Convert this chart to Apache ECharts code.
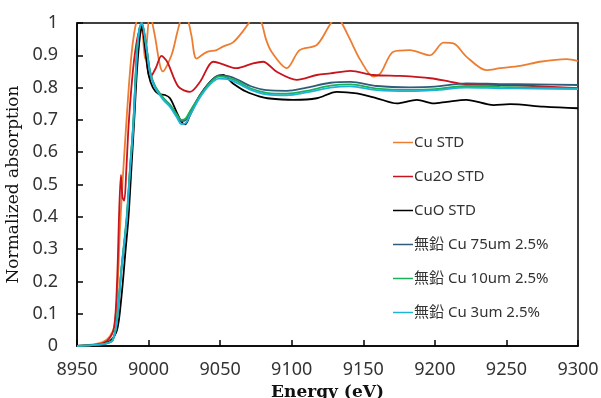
<!DOCTYPE html>
<html>
<head>
<meta charset="utf-8">
<script src="https://cdn.jsdelivr.net/npm/echarts@6/dist/echarts.min.js"></script>
<style>
html, body { margin: 0; padding: 0; background: #fff; }
#main { width: 601px; height: 398px; }
</style>
</head>
<body>
<div id="main"></div>
<script>
// series names
var names = ['Cu STD', 'Cu2O STD', 'CuO STD', '無鉛 Cu 75um 2.5%', '無鉛 Cu 10um 2.5%', '無鉛 Cu 3um 2.5%'];
var colors = ['#ED7D31', '#C8141C', '#000000', '#2E5C7A', '#1DB05A', '#1EB4D8'];

// Cu STD
var cuE = [8950, 8960, 8968, 8973, 8976, 8978, 8980, 8982, 8984, 8986, 8988, 8990, 8992, 8994.5, 8997.5, 9001, 9004, 9010, 9016, 9020, 9022.5, 9025, 9027.5, 9030, 9033.5, 9040.5, 9047.5, 9052, 9059, 9066, 9070, 9073, 9076, 9079, 9082, 9086, 9096.5, 9105.5, 9117.5, 9126, 9129, 9132, 9135, 9141, 9148, 9157, 9162, 9171, 9182.5, 9196.5, 9206, 9213, 9222, 9236, 9245.5, 9259.5, 9273.5, 9292, 9300];
var cuY = [0, 0.004, 0.012, 0.03, 0.06, 0.15, 0.36, 0.52, 0.66, 0.79, 0.9, 0.97, 1.01, 1.02, 0.89, 1.03, 0.97, 0.85, 0.9, 0.97, 1.01, 1.03, 1.01, 0.96, 0.89, 0.91, 0.916, 0.927, 0.94, 0.975, 1.0, 1.02, 1.02, 1.0, 0.95, 0.91, 0.86, 0.916, 0.932, 0.99, 1.01, 1.02, 1.0, 0.947, 0.885, 0.834, 0.844, 0.911, 0.916, 0.90, 0.939, 0.937, 0.896, 0.854, 0.86, 0.867, 0.88, 0.888, 0.882];

// Cu2O STD
var cu2oE = [8950, 8965, 8972, 8976, 8978, 8979.5, 8980.7, 8981.8, 8983, 8984.5, 8986, 8988, 8990, 8992.5, 8995, 8997.5, 9001, 9005, 9009, 9013, 9020.8, 9029, 9036, 9045, 9050, 9061.5, 9073, 9080, 9089.5, 9103.5, 9117.5, 9127, 9141, 9157, 9176, 9197, 9211, 9222, 9245.5, 9268.5, 9300];
var cu2oY = [0, 0.005, 0.02, 0.06, 0.2, 0.42, 0.53, 0.46, 0.45, 0.55, 0.68, 0.8, 0.89, 0.96, 0.99, 0.92, 0.83, 0.86, 0.898, 0.88, 0.803, 0.787, 0.818, 0.88, 0.875, 0.86, 0.875, 0.88, 0.849, 0.824, 0.839, 0.844, 0.852, 0.839, 0.836, 0.829, 0.818, 0.81, 0.808, 0.805, 0.798];

// CuO STD
var cuoE = [8950, 8965, 8973, 8978, 8981, 8984, 8986, 8988, 8990, 8992, 8994, 8995.5, 8997.5, 9000, 9003, 9007, 9011.5, 9015, 9019.5, 9023, 9025.5, 9029, 9036, 9043, 9047.5, 9052, 9059, 9068.5, 9078, 9083, 9101, 9117.5, 9131.5, 9145.5, 9159.5, 9173.5, 9187.5, 9199, 9208.5, 9222, 9241, 9252.5, 9276, 9300];
var cuoY = [0, 0.004, 0.015, 0.05, 0.15, 0.3, 0.4, 0.55, 0.7, 0.86, 0.96, 0.99, 0.93, 0.84, 0.8, 0.78, 0.777, 0.767, 0.725, 0.694, 0.686, 0.715, 0.777, 0.818, 0.834, 0.839, 0.813, 0.787, 0.772, 0.767, 0.762, 0.767, 0.787, 0.782, 0.767, 0.751, 0.762, 0.751, 0.756, 0.762, 0.746, 0.749, 0.741, 0.736];

// samples share one energy grid
var sampleE = [8950, 8965, 8972, 8975, 8977.7, 8981, 8984.7, 8987, 8989.3, 8991.7, 8993.5, 8995.2, 8998.7, 9001, 9004.5, 9010.3, 9015, 9019.7, 9023, 9026, 9029, 9036, 9043, 9049, 9055, 9062, 9071, 9082.5, 9096.5, 9110.5, 9127, 9141, 9159.5, 9182.5, 9200, 9222, 9245.5, 9270, 9300];
var s75Y = [0, 0.004, 0.01, 0.018, 0.07, 0.235, 0.39, 0.545, 0.684, 0.9, 0.98, 1.0, 0.92, 0.85, 0.803, 0.767, 0.746, 0.715, 0.696, 0.70, 0.725, 0.777, 0.818, 0.838, 0.836, 0.825, 0.805, 0.792, 0.79, 0.80, 0.815, 0.818, 0.805, 0.801, 0.803, 0.813, 0.811, 0.81, 0.808];
var s10Y = [0, 0.004, 0.01, 0.02, 0.075, 0.24, 0.4, 0.55, 0.69, 0.9, 0.98, 1.0, 0.92, 0.85, 0.805, 0.768, 0.747, 0.717, 0.700, 0.705, 0.727, 0.775, 0.815, 0.834, 0.832, 0.82, 0.798, 0.784, 0.781, 0.79, 0.806, 0.81, 0.797, 0.793, 0.795, 0.805, 0.802, 0.80, 0.797];
var s3Y = [0, 0.004, 0.01, 0.018, 0.07, 0.235, 0.39, 0.54, 0.68, 0.89, 0.98, 1.0, 0.915, 0.845, 0.80, 0.762, 0.74, 0.708, 0.687, 0.69, 0.715, 0.77, 0.81, 0.828, 0.826, 0.814, 0.794, 0.779, 0.776, 0.785, 0.8, 0.804, 0.792, 0.789, 0.792, 0.8, 0.798, 0.797, 0.795];

var xs = [cuE, cu2oE, cuoE, sampleE, sampleE, sampleE];
var ys = [cuY, cu2oY, cuoY, s75Y, s10Y, s3Y];

function pairs(e, v) {
	var out = [];
	for (var i = 0; i < e.length; i++) out.push([e[i], v[i]]);
	return out;
}

var series = [];
for (var k = 0; k < names.length; k++) {
	series.push({
		name: names[k],
		type: 'line',
		data: pairs(xs[k], ys[k]),
		smooth: 0.3,
		symbol: 'none',
		clip: true,
		lineStyle: { color: colors[k], width: 1.8 },
		itemStyle: { color: colors[k] }
	});
}

var chart = echarts.init(document.getElementById('main'));

var option = {
	animation: false,
	backgroundColor: '#fff',
	color: colors,
	grid: {
		left: 77, right: 23, top: 23, bottom: 52,
		outerBoundsMode: 'none',
		containLabel: false,
		show: true, borderColor: '#000', borderWidth: 1.5
	},
	legend: {
		orient: 'vertical',
		left: 393,
		top: 135,
		padding: 0,
		itemWidth: 20,
		itemHeight: 14,
		itemGap: 19,
		icon: 'path://M0,6 L20,6 L20,7.5 L0,7.5 Z',
		textStyle: { fontFamily: 'Noto Sans, Noto Sans CJK JP', fontSize: 15, lineHeight: 14, color: '#333', padding: [0, 0, 0, -4] },
		data: names
	},
	xAxis: {
		type: 'value',
		min: 8950, max: 9300, interval: 50,
		name: 'Energy (eV)',
		nameLocation: 'middle',
		nameGap: 38,
		nameTextStyle: { fontFamily: 'DejaVu Serif', fontSize: 17, fontWeight: 'bold', color: '#111' },
		axisLine: { show: true, lineStyle: { color: '#000', width: 1.5 } },
		axisTick: { show: true, inside: true, length: 6, lineStyle: { color: '#000', width: 1.5 } },
		axisLabel: {
			fontFamily: 'Noto Sans', fontSize: 18, color: '#333', margin: 15,
			formatter: function (v) { return String(v); }
		},
		splitLine: { show: false }
	},
	yAxis: {
		type: 'value',
		min: 0, max: 1, interval: 0.1,
		name: 'Normalized absorption',
		nameLocation: 'middle',
		nameGap: 50,
		nameTextStyle: { fontFamily: 'DejaVu Serif', fontSize: 17, color: '#111' },
		axisLine: { show: true, lineStyle: { color: '#000', width: 1.5 } },
		axisTick: { show: true, inside: true, length: 6, lineStyle: { color: '#000', width: 1.5 } },
		axisLabel: {
			fontFamily: 'Noto Sans', fontSize: 18, color: '#333', margin: 19,
			formatter: function (v) { return String(Math.round(v * 10) / 10); }
		},
		splitLine: { show: false }
	},
	series: series
};

chart.setOption(option);

window.onresize = function () {
	chart.resize();
};
</script>
</body>
</html>
